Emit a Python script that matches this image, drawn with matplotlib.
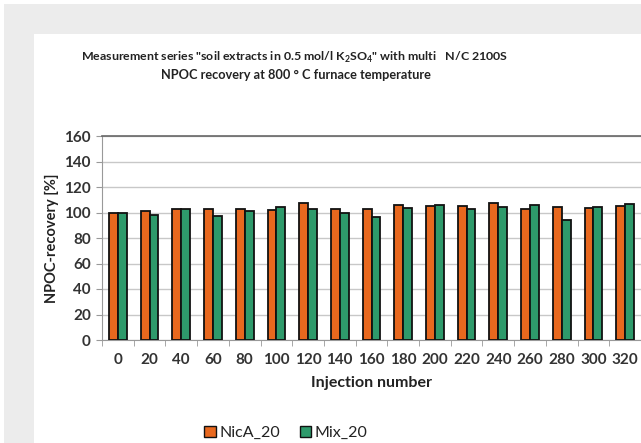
import numpy as np
import matplotlib
matplotlib.use('Agg')
import matplotlib.pyplot as plt
from matplotlib.patches import Rectangle, Patch

injections = ['0', '20', '40', '60', '80', '100', '120', '140', '160', '180',
              '200', '220', '240', '260', '280', '300', '320']
nica_20 = [99.5, 101, 102.6, 102.4, 102.6, 102.1, 107.3, 102.6, 102.9, 106,
           105.2, 105, 107.6, 102.9, 104.7, 103.7, 105]
mix_20 = [99.5, 98.4, 102.9, 97.4, 101.3, 104.5, 102.6, 99.7, 96.6, 103.7,
          105.5, 102.9, 104.7, 106, 94.2, 104.7, 106.3]

plt.rcParams['font.family'] = ['Lato', 'DejaVu Sans']
plt.rcParams['mathtext.fontset'] = 'custom'
plt.rcParams['mathtext.rm'] = 'Lato:bold'
plt.rcParams['mathtext.bf'] = 'Lato:bold'

fig = plt.figure(figsize=(6.41, 4.43), dpi=100)
fig.patch.set_facecolor('white')
# gray frame with white panel, like the screenshot
fig.patches.append(Rectangle((4 / 641, 0), 1, 1 - 4 / 443, transform=fig.transFigure,
                             facecolor='#ececec', edgecolor='none', zorder=-2))
fig.patches.append(Rectangle((34 / 641, 0), 1, 1 - 34 / 443, transform=fig.transFigure,
                             facecolor='white', edgecolor='none', zorder=-1))

ax = fig.add_axes([102 / 641, 1 - 340 / 443, 539 / 641, 204 / 443])

x = np.arange(len(injections))
w = 0.28
ax.bar(x - w / 2, nica_20, w, color='#e8681e', edgecolor='#111111', linewidth=1.3,
       label='NicA_20', zorder=3)
ax.bar(x + w / 2, mix_20, w, color='#2e9a6b', edgecolor='#111111', linewidth=1.3,
       label='Mix_20', zorder=3)

ax.set_xlim(-0.5, len(injections) - 0.5)
ax.set_ylim(0, 160)
ax.set_yticks(range(0, 161, 20))
ax.set_xticks(x)
ax.set_xticklabels(injections)
ax.set_xticks(np.arange(-0.5, len(injections), 1), minor=True)
ax.tick_params(axis='x', which='major', length=0, pad=9, labelsize=11)
ax.tick_params(axis='x', which='minor', length=4, color='#999999')
ax.tick_params(axis='y', length=4, color='#999999', labelsize=11, pad=4)
for lab in ax.get_xticklabels() + ax.get_yticklabels():
    lab.set_fontweight('bold')
    lab.set_color('#333333')

ax.grid(axis='y', color='#c8c8c8', linewidth=1, zorder=0)
ax.spines['top'].set_color('#666666')
ax.spines['top'].set_linewidth(1.2)
ax.spines['right'].set_visible(False)
ax.spines['left'].set_color('#999999')
ax.spines['bottom'].set_color('#999999')

ax.set_ylabel('NPOC-recovery [%]', fontsize=10.5, fontweight='bold', labelpad=4,
              color='#222222')
ax.set_xlabel('Injection number', fontsize=11.5, fontweight='bold', labelpad=7,
              color='#222222')

fig.text(295 / 641, 1 - 57 / 443,
         'Measurement series "soil extracts in 0.5 mol/l K$_2$SO$_4$" with multi   N/C 2100S',
         ha='center', va='center', fontsize=8.9, fontweight='bold', color='#222222')
fig.text(296 / 641, 1 - 75 / 443, 'NPOC recovery at 800 ° C furnace temperature',
         ha='center', va='center', fontsize=9.2, fontweight='bold', color='#222222')

handles = [Patch(facecolor='#e8681e', edgecolor='#111111', label='NicA_20'),
           Patch(facecolor='#2e9a6b', edgecolor='#111111', label='Mix_20')]
fig.legend(handles=handles, loc='center', bbox_to_anchor=(286 / 641, 1 - 433 / 443),
           ncol=2, frameon=False, prop={'size': 11.5}, handlelength=0.7, handleheight=0.7,
           handletextpad=0.25, columnspacing=1.2, labelcolor='#222222')

plt.savefig('out.png', dpi=100)
